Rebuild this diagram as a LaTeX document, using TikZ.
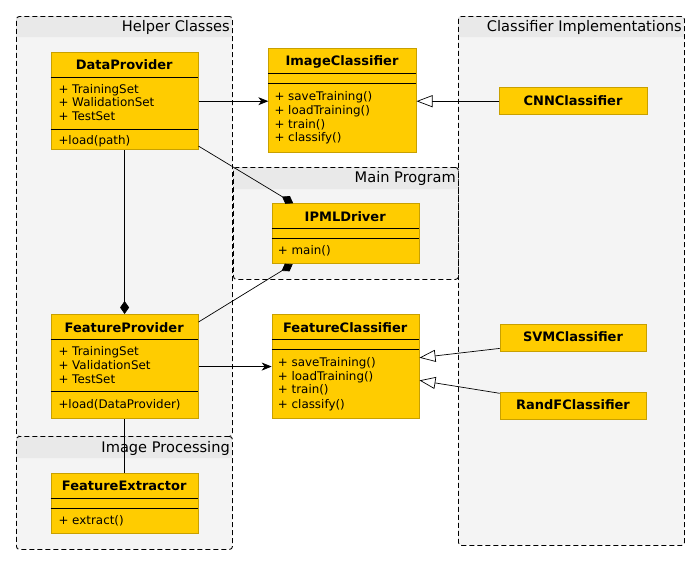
\documentclass[tikz,border=0pt]{standalone}
\usepackage{fontspec}
\setmainfont{DejaVu Sans}
\usetikzlibrary{arrows.meta,calc}
\definecolor{clsfill}{HTML}{FFCC00}
\definecolor{clsborder}{HTML}{C8A000}
\definecolor{pkgbody}{HTML}{F4F4F4}
\definecolor{pkgtitle}{HTML}{E9E9E9}
\tikzset{
  pkg/.style={draw=black, dash pattern=on 5pt off 3pt, line width=0.9pt, rounded corners=3pt},
  pkgtitletext/.style={anchor=east, inner sep=0pt, font=\fontsize{14.6}{16}\selectfont},
  classbox/.style={draw=clsborder, fill=clsfill, line width=0.8pt, rectangle, inner sep=0pt, anchor=north west},
  cname/.style={inner sep=0pt, font=\fontsize{13}{15}\selectfont\bfseries},
  member/.style={inner sep=0pt, anchor=base west, font=\fontsize{11.9}{13}\selectfont},
  sep/.style={draw=black, line width=0.8pt},
  conn/.style={draw=black, line width=0.7pt},
  arr/.style={conn, -{Stealth[length=10pt,width=8pt,inset=3pt]}},
  inh/.style={conn, -{Triangle[open,length=16pt,width=12pt,fill=white]}},
  comp/.style={conn, -{Diamond[length=13pt,width=9pt]}},
}
\begin{document}
\begin{tikzpicture}[x=1pt,y=-1pt]
\useasboundingbox (0,0) rectangle (700,565);
% ---------- packages ----------
% Helper Classes
\fill[pkgbody, rounded corners=3pt] (16,16) rectangle (232,436);
\fill[pkgtitle, rounded corners=3pt] (16,16) rectangle (232,37);
\fill[pkgtitle] (16,30) rectangle (232,37);
\node[pkg, minimum width=216, minimum height=420, anchor=north west, inner sep=0pt] (helper) at (16,16) {};
\node[pkgtitletext] (helpert) at (230,27) {Helper Classes};
% Classifier Implementations
\fill[pkgbody, rounded corners=3pt] (458,16) rectangle (684,545);
\fill[pkgtitle, rounded corners=3pt] (458,16) rectangle (684,37);
\fill[pkgtitle] (458,30) rectangle (684,37);
\node[pkg, minimum width=226, minimum height=529, anchor=north west, inner sep=0pt] (impl) at (458,16) {};
\node[pkgtitletext] (implt) at (682,27) {Classifier Implementations};
% Main Program
\fill[pkgbody, rounded corners=3pt] (233,167) rectangle (458,279);
\fill[pkgtitle, rounded corners=3pt] (233,167) rectangle (458,189);
\fill[pkgtitle] (233,182) rectangle (458,189);
\node[pkg, minimum width=225, minimum height=112, anchor=north west, inner sep=0pt] (mainp) at (233,167) {};
\node[pkgtitletext] (mainpt) at (456,178) {Main Program};
% Image Processing
\fill[pkgbody, rounded corners=3pt] (16,436) rectangle (232,549);
\fill[pkgtitle, rounded corners=3pt] (16,436) rectangle (232,458);
\fill[pkgtitle] (16,451) rectangle (232,458);
\node[pkg, minimum width=216, minimum height=113, anchor=north west, inner sep=0pt] (imgp) at (16,436) {};
\node[pkgtitletext] (imgpt) at (230,448) {Image Processing};

% ---------- classes ----------
% DataProvider
\node[classbox, minimum width=147, minimum height=97] (dp) at (50.7,52.3) {};
\node[cname] (dpn) at (124.2,64.3) {DataProvider};
\draw[sep] (50.7,77.3) -- (197.7,77.3);
\draw[sep] (50.7,129.3) -- (197.7,129.3);
\node[member] (dpa1) at (58.3,93.3) {+ TrainingSet};
\node[member] (dpa2) at (58.3,106.9) {+ WalidationSet};
\node[member] (dpa3) at (58.3,120.7) {+ TestSet};
\node[member] (dpm1) at (58.3,144.8) {+load(path)};

% ImageClassifier
\node[classbox, minimum width=147.4, minimum height=104.6] (ic) at (268.3,47.7) {};
\node[cname] (icn) at (342,61.7) {ImageClassifier};
\draw[sep] (268.3,73.3) -- (415.7,73.3);
\draw[sep] (268.3,83.3) -- (415.7,83.3);
\node[member] (icm1) at (274.3,100.2) {+ saveTraining()};
\node[member] (icm2) at (274.3,114.2) {+ loadTraining()};
\node[member] (icm3) at (274.3,128.2) {+ train()};
\node[member] (icm4) at (274.3,141.9) {+ classify()};

% CNNClassifier
\node[classbox, minimum width=147.4, minimum height=27] (cnn) at (499.3,87.3) {};
\node[cname] (cnnn) at (573,100.3) {CNNClassifier};

% IPMLDriver
\node[classbox, minimum width=147, minimum height=60] (ipml) at (271.7,203.3) {};
\node[cname] (ipmln) at (345.2,216.7) {IPMLDriver};
\draw[sep] (271.7,228.3) -- (418.7,228.3);
\draw[sep] (271.7,238.3) -- (418.7,238.3);
\node[member] (ipmlm1) at (277.7,254.9) {+ main()};

% FeatureProvider
\node[classbox, minimum width=147, minimum height=104.3] (fp) at (50.7,314) {};
\node[cname] (fpn) at (124.2,327.3) {FeatureProvider};
\draw[sep] (50.7,339.3) -- (197.7,339.3);
\draw[sep] (50.7,391) -- (197.7,391);
\node[member] (fpa1) at (58.3,355.9) {+ TrainingSet};
\node[member] (fpa2) at (58.3,369.9) {+ ValidationSet};
\node[member] (fpa3) at (58.3,383.5) {+ TestSet};
\node[member] (fpm1) at (58.3,408.2) {+load(DataProvider)};

% FeatureExtractor
\node[classbox, minimum width=147, minimum height=60.3] (fe) at (50.7,473) {};
\node[cname] (fen) at (124.2,485.7) {FeatureExtractor};
\draw[sep] (50.7,498.3) -- (197.7,498.3);
\draw[sep] (50.7,508.3) -- (197.7,508.3);
\node[member] (fem1) at (58.3,524.2) {+ extract()};

% FeatureClassifier
\node[classbox, minimum width=147, minimum height=104] (fc) at (271.7,314.3) {};
\node[cname] (fcn) at (345.2,327.3) {FeatureClassifier};
\draw[sep] (271.7,339.3) -- (418.7,339.3);
\draw[sep] (271.7,349.3) -- (418.7,349.3);
\node[member] (fcm1) at (277.7,366.2) {+ saveTraining()};
\node[member] (fcm2) at (277.7,380.2) {+ loadTraining()};
\node[member] (fcm3) at (277.7,393.5) {+ train()};
\node[member] (fcm4) at (277.7,408.2) {+ classify()};

% SVMClassifier
\node[classbox, minimum width=146.6, minimum height=27.3] (svm) at (499.7,324) {};
\node[cname] (svmn) at (573,337) {SVMClassifier};

% RandFClassifier
\node[classbox, minimum width=146.6, minimum height=26.7] (rf) at (499.7,392.3) {};
\node[cname] (rfn) at (573,404.5) {RandFClassifier};

% ---------- connectors ----------
\draw[arr] (dp.east) -- (dp.east -| ic.west);
\draw[inh] (cnn.west) -- (cnn.west -| ic.east);
\draw[arr] (fp.east) -- (fp.east -| fc.west);
\draw[comp] (dp.south) -- (fp.north);
\draw[conn] (fp.south) -- (fe.north);
\draw[comp] ([yshift=4pt]dp.south east) -- ([xshift=21.5pt]ipml.north west);
\draw[comp] ([yshift=-8pt]fp.north east) -- ([xshift=21pt]ipml.south west);
\draw[inh] ([yshift=3.7pt]svm.south west) -- ([yshift=9pt]fc.east);
\draw[inh] ([yshift=-1pt]rf.north west) -- ([yshift=-13.7pt]fc.east);
\end{tikzpicture}
\end{document}
